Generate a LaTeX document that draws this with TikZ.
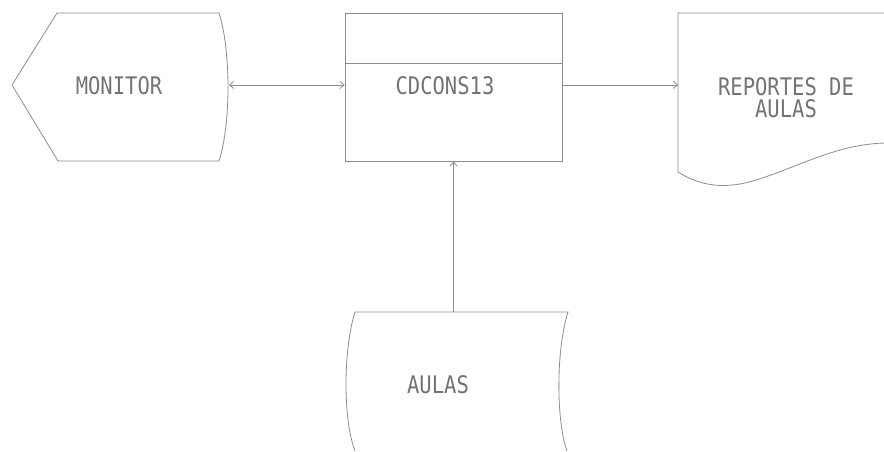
\documentclass[tikz,border=0pt]{standalone}
\usepackage{graphicx}
\usepackage{fontspec}
\newfontfamily\dotfont{DejaVu Sans Mono}
\usepackage{tikz}
\usetikzlibrary{positioning,arrows.meta,calc}

\newcommand{\tall}[1]{\scalebox{1}[1.18]{#1}}

\begin{document}
\begin{tikzpicture}[
  x=1pt, y=-1pt,
  outline/.style={draw=black!45, line width=0.8pt},
  procbox/.style={outline, minimum width=217pt, minimum height=148pt, inner sep=0pt},
  tag/.style={font=\dotfont\fontsize{20.5}{18}\selectfont, text=black!55, align=center, inner sep=0pt},
  arrow/.style={outline, -{Straight Barb[length=4pt,width=7pt]}},
]
\useasboundingbox (0,0) rectangle (884,451);

% The process box in the middle, with its header strip.
\node[procbox] (cd) at (453.5,87) {};
\draw[outline] (cd.west |- 0,63) -- (cd.east |- 0,63);
\node[tag] (cdtxt) at (445,86) {\tall{CDCONS13}};

% Display on the left.
\draw[outline] (57,13) -- (219,13) .. controls (231,50) and (231,124) .. (219,161)
  -- (58,161) -- (12,85) -- cycle;
\node[tag] (monitor) at (119,86) {\tall{MONITOR}};
\coordinate (monR) at (229,85);

% Printed report on the right.
\draw[outline] (884,13) -- (678,13) -- (678,172)
  .. controls (700,186) and (722,188) .. (745,183)
  .. controls (790,172) and (830,145) .. (884,143);
\node[tag] (reports) at (786,98) {\tall{REPORTES DE}\\[3pt]\tall{AULAS}};
\coordinate (repL) at (678,85);

% Stored data below.
\draw[outline] (355,451) .. controls (343,420) and (343,350) .. (355,312)
  -- (568,312) .. controls (556,350) and (556,420) .. (567,451);
\node[tag] (aulas) at (438,385) {\tall{AULAS}};
\coordinate (aulasT) at (453.5,312);

% Connectors.
\draw[arrow, {Straight Barb[length=4pt,width=7pt]}-{Straight Barb[length=4pt,width=7pt]}]
  (monR) -- (monR -| cd.west);
\draw[arrow] (cd.east |- repL) -- (repL);
\draw[arrow] (aulasT) -- (cd.south);

\end{tikzpicture}
\end{document}
